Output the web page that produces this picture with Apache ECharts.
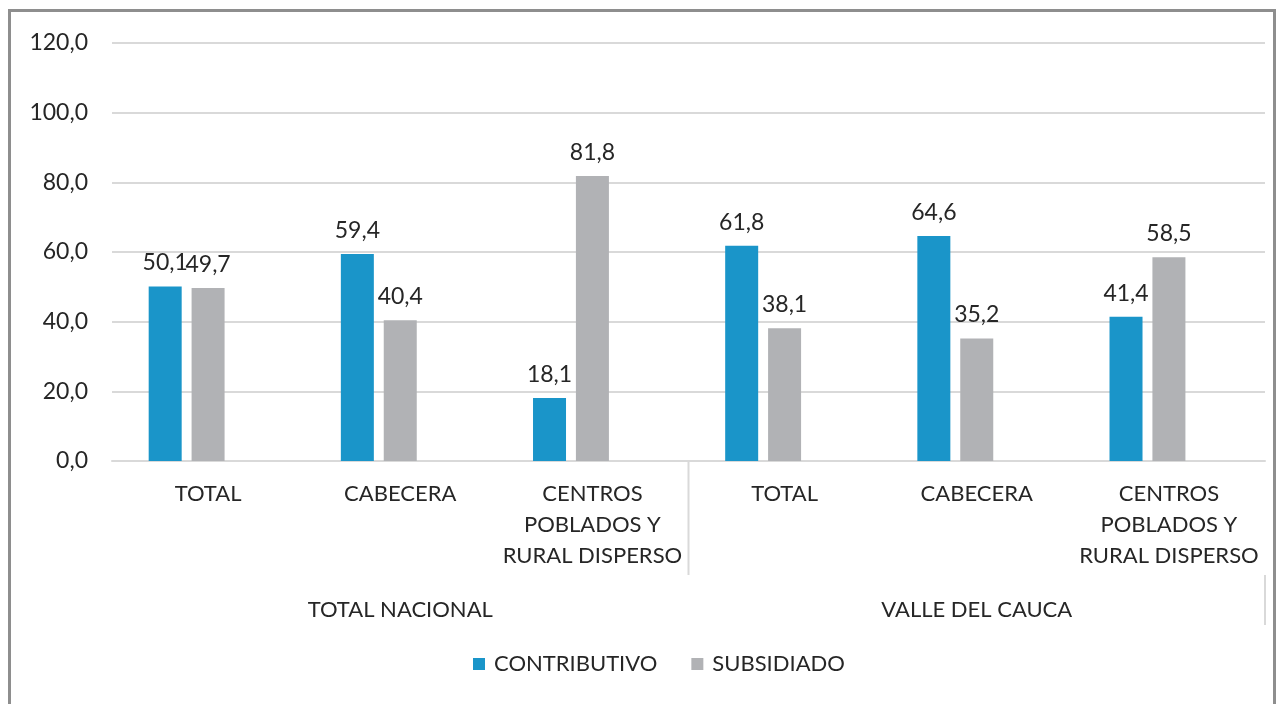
<!DOCTYPE html>
<html>
<head>
<meta charset="utf-8">
<script src="https://cdn.jsdelivr.net/npm/echarts@6/dist/echarts.min.js"></script>
<style>
  html, body { margin: 0; padding: 0; background: #fff; }
  #chart { width: 1284px; height: 704px; }
</style>
</head>
<body>
<div id="chart"></div>
<script>
// datos del gráfico
const categorias = ['TOTAL', 'CABECERA', 'CENTROS\nPOBLADOS Y\nRURAL DISPERSO', 'TOTAL', 'CABECERA', 'CENTROS\nPOBLADOS Y\nRURAL DISPERSO'];
const grupos = ['TOTAL NACIONAL', 'VALLE DEL CAUCA'];
const contributivo = [50.1, 59.4, 18.1, 61.8, 64.6, 41.4];
const subsidiado = [49.7, 40.4, 81.8, 38.1, 35.2, 58.5];
const vacio = [null, null, null, null, null, null];

const fuente = 'Lato';
const colorTexto = '#262626';
const coma = v => v.toFixed(1).replace('.', ',');

let chart = echarts.init(document.getElementById('chart'));

const gridLeft = 112, gridRight = 19;
const anchoCat = (1284 - gridLeft - gridRight) / categorias.length;
const xSep = gridLeft + anchoCat * 3;
const xFin = 1284 - gridRight;

let option = {
    animation: false,
    textStyle: { fontFamily: fuente },
    grid: { left: gridLeft, right: gridRight, top: 43, bottom: 243 },
    legend: {
        data: ['CONTRIBUTIVO', 'SUBSIDIADO'],
        bottom: 24,
        left: 468,
        itemWidth: 12,
        itemHeight: 12,
        itemGap: 34,
        icon: 'rect',
        textStyle: { fontSize: 22, color: colorTexto, fontFamily: fuente, padding: [0, 0, 0, 4] }
    },
    xAxis: [
        {
            type: 'category',
            data: categorias,
            axisLine: { lineStyle: { color: '#d9d9d9', width: 2 } },
            axisTick: { show: false },
            axisLabel: { color: colorTexto, fontSize: 22, lineHeight: 31, margin: 17, interval: 0, fontFamily: fuente }
        },
        {
            type: 'category',
            data: grupos,
            position: 'bottom',
            offset: 124,
            axisLine: { show: false },
            axisTick: { show: false },
            axisLabel: { color: colorTexto, fontSize: 22, lineHeight: 31, margin: 9, fontFamily: fuente }
        }
    ],
    yAxis: {
        type: 'value',
        min: 0,
        max: 120,
        interval: 20,
        axisLine: { show: false },
        axisTick: { show: false },
        splitLine: { lineStyle: { color: '#d9d9d9', width: 2 } },
        axisLabel: { color: colorTexto, fontSize: 23, margin: 24, formatter: coma, fontFamily: fuente }
    },
    series: [
        {
            name: 'CONTRIBUTIVO',
            type: 'bar',
            data: contributivo,
            barWidth: 33,
            barGap: '30%',
            itemStyle: { color: '#1a95c9' },
            label: { show: true, position: 'top', distance: 12, fontSize: 23, color: colorTexto, formatter: p => coma(p.value) }
        },
        {
            name: 'SUBSIDIADO',
            type: 'bar',
            data: subsidiado,
            barWidth: 33,
            barGap: '30%',
            itemStyle: { color: '#b1b2b5' },
            label: { show: true, position: 'top', distance: 12, fontSize: 23, color: colorTexto, formatter: p => coma(p.value) }
        },
        {
            name: '',
            type: 'bar',
            data: vacio,
            barWidth: 33,
            barGap: '30%'
        }
    ],
    graphic: [
        {
            type: 'rect',
            shape: { x: 9.5, y: 10.5, width: 1265, height: 720 },
            style: { fill: 'none', stroke: '#8e8e8e', lineWidth: 3 },
            silent: true
        },
        {
            type: 'line',
            shape: { x1: xSep, y1: 461, x2: xSep, y2: 575 },
            style: { stroke: '#d9d9d9', lineWidth: 2 },
            silent: true
        },
        {
            type: 'line',
            shape: { x1: xFin, y1: 575, x2: xFin, y2: 625 },
            style: { stroke: '#d9d9d9', lineWidth: 2 },
            silent: true
        }
    ]
};

chart.setOption(option);
</script>
</body>
</html>
